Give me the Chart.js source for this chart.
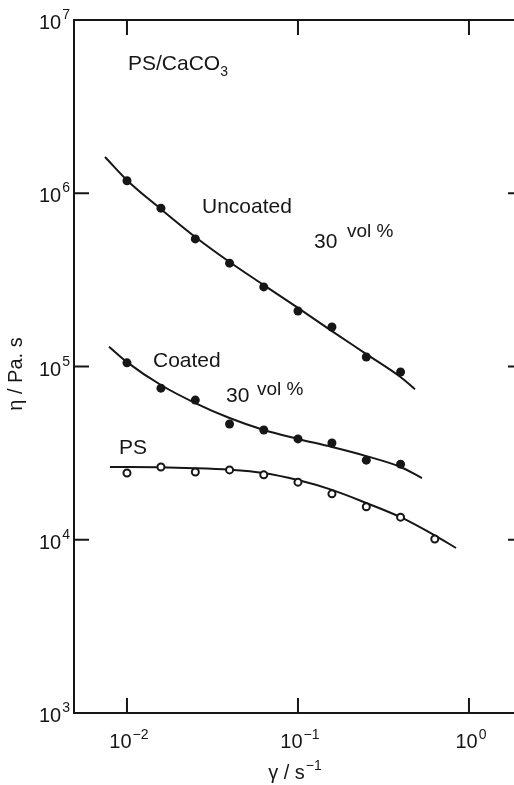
<!DOCTYPE html>
<html><head><meta charset="utf-8">
<script src="https://cdn.jsdelivr.net/npm/chart.js@4.4.0/dist/chart.umd.min.js"></script>
<style>
html,body{margin:0;padding:0;background:#fff;overflow:hidden;width:514px;height:785px}
canvas{display:block}
</style></head>
<body>
<canvas id="c" width="540" height="785" style="width:540px;height:785px"></canvas>
<script>
// ---- data ----
const shearRate   = [0.01, 0.0158, 0.0251, 0.0398, 0.0631, 0.1, 0.158, 0.251, 0.398, 0.631];
const uncoatedEta = [1.18e6, 8.2e5, 5.45e5, 3.95e5, 2.88e5, 2.09e5, 1.69e5, 1.135e5, 9.3e4];
const coatedEta   = [1.05e5, 7.5e4, 6.4e4, 4.66e4, 4.3e4, 3.82e4, 3.62e4, 2.88e4, 2.73e4];
const psEta       = [2.43e4, 2.63e4, 2.46e4, 2.53e4, 2.37e4, 2.15e4, 1.84e4, 1.55e4, 1.35e4, 1.01e4];

const uncoatedFitX = [0.00744, 0.01, 0.0158, 0.0251, 0.0398, 0.0631, 0.1, 0.158, 0.251, 0.398, 0.483];
const uncoatedFitY = [1.62e6, 1.19e6, 8.1e5, 5.59e5, 4.01e5, 2.95e5, 2.18e5, 1.60e5, 1.18e5, 8.7e4, 7.4e4];
const coatedFitX   = [0.00785, 0.01, 0.0158, 0.0251, 0.0398, 0.0631, 0.1, 0.158, 0.251, 0.398, 0.531];
const coatedFitY   = [1.30e5, 1.06e5, 7.82e4, 6.15e4, 5.04e4, 4.30e4, 3.82e4, 3.43e4, 3.04e4, 2.63e4, 2.27e4];
const psFitX       = [0.00795, 0.01, 0.0251, 0.0398, 0.0631, 0.1, 0.158, 0.251, 0.398, 0.631, 0.84];
const psFitY       = [2.63e4, 2.63e4, 2.59e4, 2.54e4, 2.43e4, 2.21e4, 1.94e4, 1.63e4, 1.35e4, 1.06e4, 8.96e3];

const xTickExps = [-2, -1, 0];
const yTickExps = [3, 4, 5, 6, 7];

// ---- styling ----
const FONT = '"Liberation Sans", Arial, Helvetica, sans-serif';
const INK = '#161616';

function pts(xs, ys) { return ys.map((y, i) => ({ x: xs[i], y: y })); }

function expText(e) { return e < 0 ? '\u2212' + Math.abs(e) : String(e); }

function drawPow(ctx, x, y, exp, align, size, supSize, raise) {
  ctx.font = size + 'px ' + FONT;
  const wb = ctx.measureText('10').width;
  ctx.font = supSize + 'px ' + FONT;
  const sup = expText(exp);
  const ws = ctx.measureText(sup).width;
  const total = wb + 1 + ws;
  let sx = x;
  if (align === 'right') sx = x - total;
  else if (align === 'center') sx = x - total / 2;
  ctx.textAlign = 'left';
  ctx.textBaseline = 'alphabetic';
  ctx.font = size + 'px ' + FONT;
  ctx.fillText('10', sx, y);
  ctx.font = supSize + 'px ' + FONT;
  ctx.fillText(sup, sx + wb + 1, y - raise);
}

function txt(ctx, s, x, y, size) {
  ctx.font = size + 'px ' + FONT;
  ctx.textAlign = 'left';
  ctx.textBaseline = 'alphabetic';
  ctx.fillText(s, x, y);
  return ctx.measureText(s).width;
}

const framePlugin = {
  id: 'frame',
  afterDraw(chart) {
    const ctx = chart.ctx;
    const a = chart.chartArea;
    const xs = chart.scales.x, ys = chart.scales.y;
    ctx.save();
    ctx.strokeStyle = INK;
    ctx.fillStyle = INK;
    ctx.lineWidth = 2;
    ctx.lineCap = 'butt';
    // frame
    ctx.beginPath();
    ctx.moveTo(a.left, a.top); ctx.lineTo(a.right, a.top);
    ctx.moveTo(a.left, a.bottom); ctx.lineTo(a.right, a.bottom);
    ctx.moveTo(a.left, a.top - 1); ctx.lineTo(a.left, a.bottom + 1);
    ctx.moveTo(a.right, a.top - 1); ctx.lineTo(a.right, a.bottom + 1);
    ctx.stroke();
    const TL = 15;
    // y ticks (inward, both sides)
    ctx.beginPath();
    yTickExps.forEach(e => {
      const py = ys.getPixelForValue(Math.pow(10, e));
      ctx.moveTo(a.left, py); ctx.lineTo(a.left + TL, py);
      ctx.moveTo(a.right - TL, py); ctx.lineTo(a.right, py);
    });
    // x ticks (inward, top and bottom)
    xTickExps.forEach(e => {
      const px = xs.getPixelForValue(Math.pow(10, e));
      ctx.moveTo(px, a.bottom); ctx.lineTo(px, a.bottom - TL);
      ctx.moveTo(px, a.top); ctx.lineTo(px, a.top + TL);
    });
    ctx.stroke();
    // tick labels
    yTickExps.forEach(e => {
      const py = ys.getPixelForValue(Math.pow(10, e));
      drawPow(ctx, a.left - 4, py + 9, e, 'right', 20, 14, 10);
    });
    xTickExps.forEach(e => {
      const px = xs.getPixelForValue(Math.pow(10, e));
      drawPow(ctx, px + 2, a.bottom + 35, e, 'center', 20, 14, 9);
    });
    // x axis title
    {
      ctx.font = '20px ' + FONT;
      const w1 = ctx.measureText('\u03b3 / s').width;
      ctx.font = '14px ' + FONT;
      const w2 = ctx.measureText('\u22121').width;
      const sx = 295 - (w1 + w2 + 1) / 2;
      txt(ctx, '\u03b3 / s', sx, 779, 20);
      txt(ctx, '\u22121', sx + w1 + 1, 770, 14);
    }
    // y axis title
    ctx.save();
    ctx.translate(22, 374);
    ctx.rotate(-Math.PI / 2);
    ctx.font = '20px ' + FONT;
    ctx.textAlign = 'center';
    ctx.textBaseline = 'alphabetic';
    ctx.fillText('\u03b7 / Pa. s', 0, 0);
    ctx.restore();
    // annotations
    const w = txt(ctx, 'PS/CaCO', 128, 70, 21);
    txt(ctx, '3', 128 + w, 76, 14);
    txt(ctx, 'Uncoated', 202, 213, 21);
    txt(ctx, '30', 314, 248, 21);
    txt(ctx, 'vol %', 347, 237, 19);
    txt(ctx, 'Coated', 153, 367, 21);
    txt(ctx, '30', 226, 402, 21);
    txt(ctx, 'vol %', 257, 395, 19);
    txt(ctx, 'PS', 119, 454, 21);
    ctx.restore();
  }
};

const lineDs = (xs, ys) => ({
  data: pts(xs, ys), showLine: true, pointRadius: 0, borderColor: INK,
  borderWidth: 2, cubicInterpolationMode: 'monotone', fill: false, order: 2
});

new Chart(document.getElementById('c'), {
  type: 'scatter',
  data: {
    datasets: [
      lineDs(uncoatedFitX, uncoatedFitY),
      lineDs(coatedFitX, coatedFitY),
      lineDs(psFitX, psFitY),
      { data: pts(shearRate, uncoatedEta), showLine: false, pointRadius: 4.5,
        backgroundColor: INK, borderColor: INK, borderWidth: 0, order: 1 },
      { data: pts(shearRate, coatedEta), showLine: false, pointRadius: 4.5,
        backgroundColor: INK, borderColor: INK, borderWidth: 0, order: 1 },
      { data: pts(shearRate, psEta), showLine: false, pointRadius: 3.5,
        backgroundColor: '#fff', borderColor: INK, borderWidth: 2, order: 1 }
    ]
  },
  options: {
    responsive: false,
    animation: false,
    events: [],
    layout: { padding: { left: 74, top: 20, right: 17, bottom: 72 } },
    plugins: { legend: { display: false }, tooltip: { enabled: false } },
    scales: {
      x: { type: 'logarithmic', min: 0.0049, max: 2.07, display: false },
      y: { type: 'logarithmic', min: 1e3, max: 1e7, display: false }
    }
  },
  plugins: [framePlugin]
});
</script>
</body></html>
